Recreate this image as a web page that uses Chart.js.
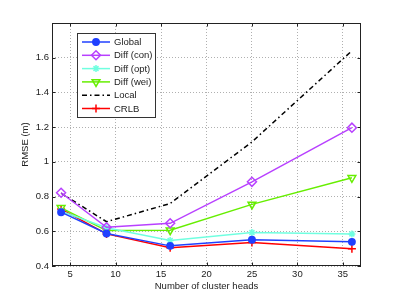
<!DOCTYPE html>
<html><head><meta charset="utf-8">
<script src="https://cdn.jsdelivr.net/npm/chart.js@4/dist/chart.umd.min.js"></script>
<style>html,body{margin:0;padding:0;background:#fff}#wrap{width:399px;height:300px;position:relative}</style>
</head><body><div id="wrap"><canvas id="c" width="399" height="300"></canvas></div>
<script>
const xValues = [4, 9, 16, 25, 36];
const globalVals = [0.71, 0.587, 0.516, 0.551, 0.539];
const diffCon = [0.822, 0.623, 0.646, 0.885, 1.197];
const diffOpt = [0.715, 0.62, 0.547, 0.593, 0.585];
const diffWei = [0.735, 0.604, 0.606, 0.755, 0.908];
const localVals = [0.82, 0.655, 0.76, 1.115, 1.64];
const crlbVals = [0.728, 0.585, 0.505, 0.535, 0.50];
const xTicks = [5, 10, 15, 20, 25, 30, 35];
const yTicks = [0.4, 0.6, 0.8, 1.0, 1.2, 1.4, 1.6];
const seriesNames = ['Global', 'Diff (con)', 'Diff (opt)', 'Diff (wei)', 'Local', 'CRLB'];

const FONT = 'Liberation Sans, Arial, sans-serif';
const toXY = arr => arr.map((v, i) => ({x: xValues[i], y: v}));

const styles = [
  {color: '#2040ff', pointStyle: 'circle', radius: 3.2, fill: '#2040ff', dash: []},
  {color: '#b840ff', pointStyle: 'rectRot', radius: 4.5, fill: 'rgba(0,0,0,0)', dash: []},
  {color: '#70ffe0', pointStyle: 'star', radius: 3.5, fill: 'rgba(0,0,0,0)', dash: []},
  {color: '#66ee00', pointStyle: 'triangle', radius: 4.5, fill: 'rgba(0,0,0,0)', dash: [], rotation: 180},
  {color: '#000000', pointStyle: false, radius: 0, fill: 'rgba(0,0,0,0)', dash: [5, 3, 1.5, 3]},
  {color: '#ff0000', pointStyle: 'cross', radius: 4, fill: 'rgba(0,0,0,0)', dash: []}
];
const allData = [globalVals, diffCon, diffOpt, diffWei, localVals, crlbVals];

const datasets = allData.map((d, i) => ({
  label: seriesNames[i],
  data: toXY(d),
  borderColor: styles[i].color,
  backgroundColor: styles[i].fill,
  borderWidth: 1.5,
  borderDash: styles[i].dash,
  pointStyle: styles[i].pointStyle,
  pointRadius: styles[i].radius,
  pointRotation: styles[i].rotation || 0,
  pointBorderColor: styles[i].color,
  pointBackgroundColor: styles[i].fill,
  pointBorderWidth: 1.5,
  tension: 0
}));

const framePlugin = {
  id: 'frame',
  afterDraw(chart) {
    const ctx = chart.ctx, a = chart.chartArea;
    const xs = chart.scales.x, ys = chart.scales.y;
    ctx.save();
    ctx.setLineDash([]);
    ctx.strokeStyle = '#222';
    ctx.lineWidth = 1;
    ctx.strokeRect(a.left + 0.5, a.top + 0.5, a.right - a.left - 1, a.bottom - a.top - 1);
    const tl = 3.5;
    ctx.beginPath();
    xTicks.forEach(v => {
      const px = Math.round(xs.getPixelForValue(v)) + 0.5;
      ctx.moveTo(px, a.bottom); ctx.lineTo(px, a.bottom - tl);
      ctx.moveTo(px, a.top); ctx.lineTo(px, a.top + tl);
    });
    yTicks.forEach(v => {
      const py = Math.round(ys.getPixelForValue(v)) + 0.5;
      ctx.moveTo(a.left, py); ctx.lineTo(a.left + tl, py);
      ctx.moveTo(a.right, py); ctx.lineTo(a.right - tl, py);
    });
    ctx.stroke();

    // legend box
    const bx = 77, by = 33, bw = 78, bh = 84;
    ctx.fillStyle = '#fff';
    ctx.fillRect(bx, by, bw, bh);
    ctx.strokeStyle = '#333';
    ctx.strokeRect(bx + 0.5, by + 0.5, bw, bh);
    ctx.font = '9.5px ' + FONT;
    ctx.textBaseline = 'middle';
    ctx.textAlign = 'left';
    seriesNames.forEach((name, i) => {
      const y = 42 + i * 13.3;
      const s = styles[i];
      ctx.strokeStyle = s.color;
      ctx.lineWidth = 1.5;
      ctx.setLineDash(s.dash);
      ctx.beginPath(); ctx.moveTo(82, y); ctx.lineTo(110, y); ctx.stroke();
      ctx.setLineDash([]);
      if (s.pointStyle) {
        ctx.fillStyle = s.fill;
        Chart.helpers.drawPoint(ctx, {pointStyle: s.pointStyle, radius: s.radius, rotation: s.rotation || 0, borderWidth: 1.5}, 96, y);
      }
      ctx.fillStyle = '#222';
      ctx.fillText(name, 114, y + 0.5);
    });
    ctx.restore();
  }
};

new Chart(document.getElementById('c'), {
  type: 'line',
  data: {datasets},
  options: {
    responsive: false,
    animation: false,
    layout: {padding: {left: 0, top: 23, right: 38, bottom: 0}},
    plugins: {legend: {display: false}, tooltip: {enabled: false}},
    scales: {
      x: {
        type: 'linear', min: 3, max: 37,
        afterBuildTicks: s => { s.ticks = xTicks.map(v => ({value: v})); },
        afterFit: s => { s.height = 34; },
        grid: {color: '#b0b0b0', lineWidth: 1, drawTicks: false},
        border: {display: false, dash: [1, 2]},
        ticks: {padding: 3, color: '#222', font: {family: FONT, size: 9.5}, maxRotation: 0, callback: v => String(v)},
        title: {display: true, text: 'Number of cluster heads', color: '#222', font: {family: FONT, size: 9.5}, padding: {top: 8, bottom: 8}}
      },
      y: {
        type: 'linear', min: 0.4, max: 1.8,
        afterBuildTicks: s => { s.ticks = yTicks.map(v => ({value: v})); },
        afterFit: s => { s.width = 52; },
        grid: {color: '#b0b0b0', lineWidth: 1, drawTicks: false},
        border: {display: false, dash: [1, 2]},
        ticks: {padding: 3, color: '#222', font: {family: FONT, size: 9.5}, callback: v => (Math.round(v * 10) / 10).toString().replace(/^1$/, '1')},
        title: {display: true, text: 'RMSE (m)', color: '#222', font: {family: FONT, size: 9.5}, padding: {top: 20, bottom: 20}}
      }
    }
  },
  plugins: [framePlugin]
});
</script>
</body></html>
